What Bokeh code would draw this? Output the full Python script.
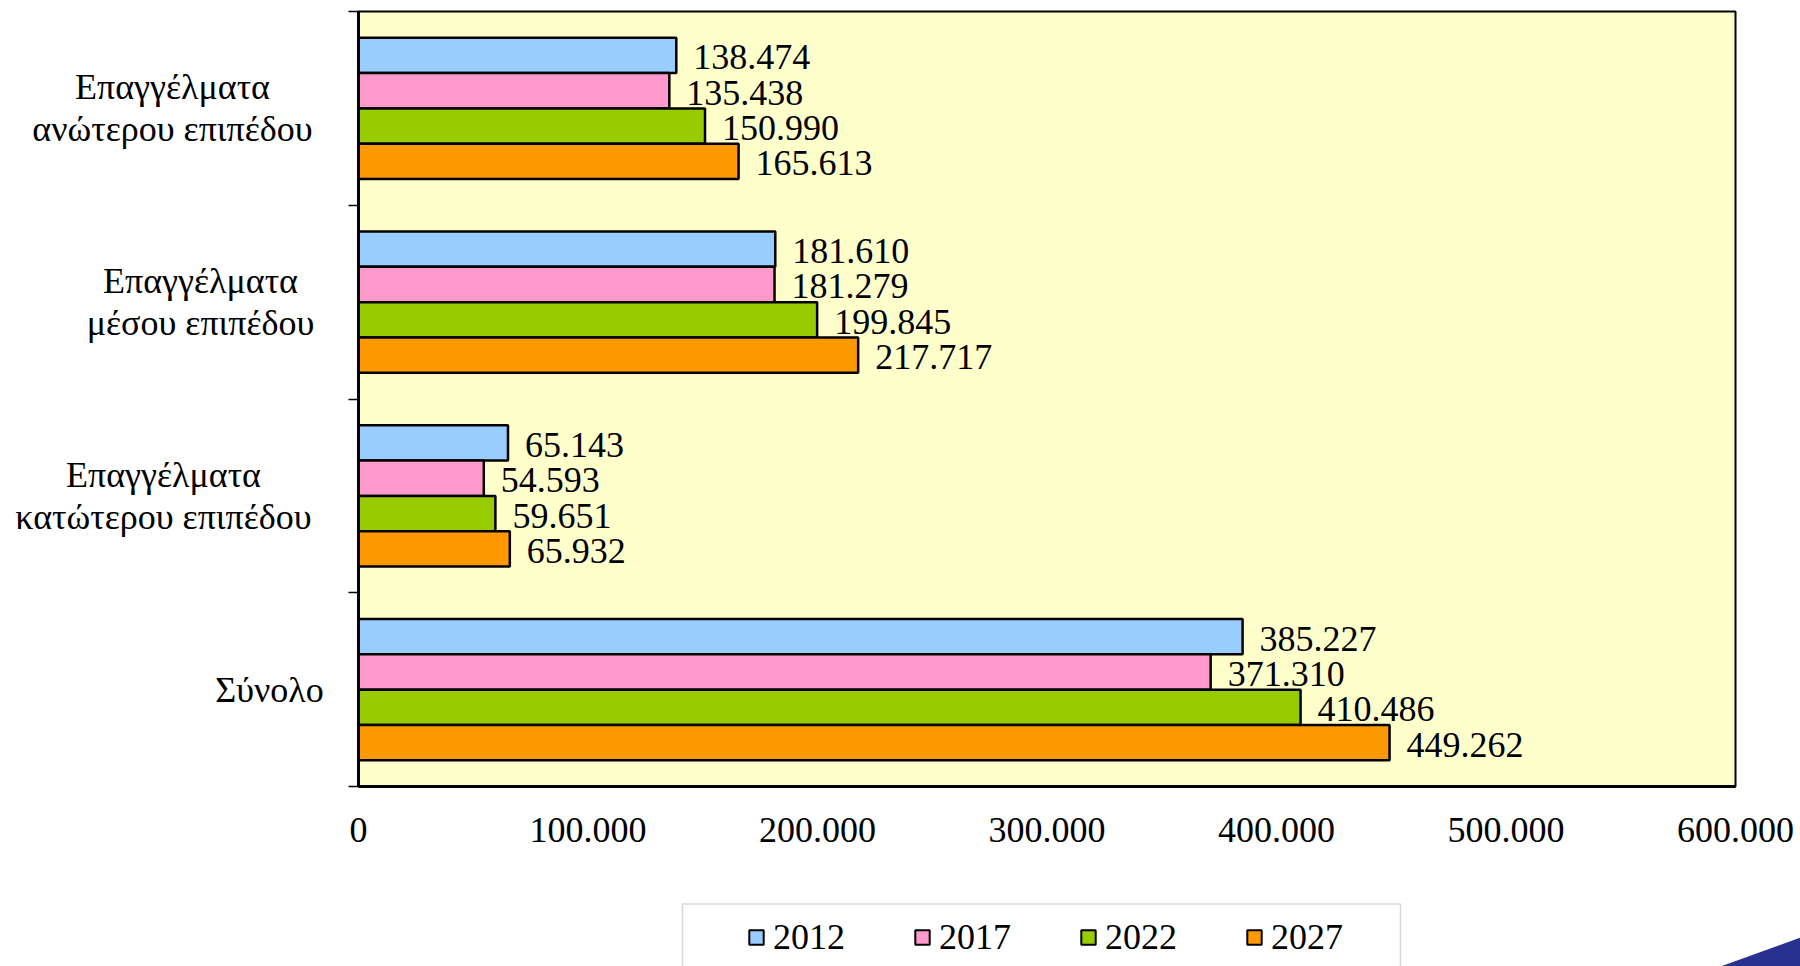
from bokeh.plotting import figure
from bokeh.layouts import column, row
from bokeh.models import (Range1d, FixedTicker, Legend, LegendItem,
                          ColumnDataSource, BoxAnnotation)
from bokeh.core.properties import value
from bokeh.embed import file_html
from bokeh.resources import INLINE

# ---------------- data ----------------
categories = ["Σύνολο",
              "Επαγγέλματα\nκατώτερου επιπέδου",
              "Επαγγέλματα\nμέσου επιπέδου",
              "Επαγγέλματα\nανώτερου επιπέδου"]
years = ["2012", "2017", "2022", "2027"]
v2012 = [385227, 65143, 181610, 138474]
v2017 = [371310, 54593, 181279, 135438]
v2022 = [410486, 59651, 199845, 150990]
v2027 = [449262, 65932, 217717, 165613]
x_ticks = [0, 100000, 200000, 300000, 400000, 500000, 600000]
x_tick_labels = ["0", "100.000", "200.000", "300.000", "400.000", "500.000", "600.000"]
colors = ["#99CCFF", "#FF99CC", "#99CC00", "#FF9900"]

FONT = "Liberation Serif"
FS = "36px"

# ---------------- layout constants (pixels) ----------------
W, H = 1800, 966
LABEL_W = 348          # width of the category-label strip
MAIN_H = 890           # height of the chart row
LEG_H = H - MAIN_H     # legend strip
FR_TOP, FR_BOTTOM = 11, 104
label_centre_x = [269, 163, 200, 172]     # horizontal centre of each label block
line_y_offsets = {1: [0], 2: [-21, 21]}   # baseline offsets (px, downwards)

series = [v2012, v2017, v2022, v2027]
bar_h = 0.1823
offsets = [1.5 * bar_h, 0.5 * bar_h, -0.5 * bar_h, -1.5 * bar_h]
ncat = len(categories)
yr = Range1d(0, ncat)

# ---------------- main chart ----------------
p = figure(width=W - LABEL_W, height=MAIN_H, output_backend="svg", toolbar_location=None,
           x_range=Range1d(0, 600000), y_range=yr,
           min_border_left=10, min_border_right=65, min_border_top=FR_TOP,
           min_border_bottom=FR_BOTTOM)
p.background_fill_color = "#FFFFCC"
p.border_fill_color = "white"
p.outline_line_color = "black"
p.outline_line_width = 2
p.xgrid.visible = False
p.ygrid.visible = False

for vals, off, col in zip(series, offsets, colors):
    ys = [i + 0.5 + off for i in range(ncat)]
    src = ColumnDataSource(dict(y=ys, right=vals,
                                lab=[f"{v:,}".replace(",", ".") for v in vals]))
    p.hbar(y="y", right="right", left=0, height=bar_h, source=src,
           fill_color=col, line_color="black", line_width=2.5)
    p.text(x="right", y="y", text="lab", source=src, x_offset=17, y_offset=2,
           text_font=value(FONT), text_font_size=FS, text_color="black",
           text_align="left", text_baseline="middle")

p.xaxis.ticker = FixedTicker(ticks=x_ticks)
p.xaxis.major_label_overrides = {t: l for t, l in zip(x_ticks, x_tick_labels)}
p.xaxis.major_label_text_font = FONT
p.xaxis.major_label_text_font_size = FS
p.xaxis.major_label_text_color = "black"
p.xaxis.major_tick_out = 0
p.xaxis.major_tick_in = 0
p.xaxis.minor_tick_line_color = None
p.xaxis.major_label_standoff = 31
p.xaxis.axis_line_width = 3
p.xaxis.axis_line_color = "black"

bounds = list(range(ncat + 1))
p.yaxis.ticker = FixedTicker(ticks=bounds)
p.yaxis.major_label_overrides = {b: "" for b in bounds}
p.yaxis.major_label_standoff = 0
p.yaxis.major_tick_out = 10
p.yaxis.major_tick_in = 0
p.yaxis.major_tick_line_width = 1.5
p.yaxis.major_tick_line_color = "black"
p.yaxis.minor_tick_line_color = None
p.yaxis.axis_line_width = 3
p.yaxis.axis_line_color = "black"

# ---------------- category labels strip ----------------
lab = figure(width=LABEL_W, height=MAIN_H, output_backend="svg", toolbar_location=None,
             x_range=Range1d(0, LABEL_W), y_range=yr,
             min_border_left=0, min_border_right=0, min_border_top=FR_TOP,
             min_border_bottom=FR_BOTTOM, x_axis_location=None, y_axis_location=None)
lab.grid.visible = False
lab.outline_line_color = None
lab.background_fill_color = "white"
lab.border_fill_color = "white"
for i, cat in enumerate(categories):
    lines = cat.split("\n")
    for line, yo in zip(lines, line_y_offsets[len(lines)]):
        src = ColumnDataSource(dict(x=[label_centre_x[i]], y=[i + 0.5], t=[line]))
        lab.text(x="x", y="y", text="t", source=src, y_offset=yo,
                 text_font=value(FONT), text_font_size=FS, text_color="black",
                 text_align="center", text_baseline="alphabetic")

# ---------------- legend strip ----------------
leg = figure(width=W, height=LEG_H, output_backend="svg", toolbar_location=None,
             x_range=Range1d(0, W), y_range=Range1d(0, LEG_H),
             min_border_left=0, min_border_right=0, min_border_top=0,
             min_border_bottom=0, x_axis_location=None, y_axis_location=None)
leg.grid.visible = False
leg.outline_line_color = None
leg.background_fill_color = "white"
leg.border_fill_color = "white"

# decorative corner swoosh of the slide
leg.patch(x=[1720, 1800, 1800], y=[0, 29, 0], fill_color="#27318F", line_color=None)

# legend proxies: zero-width bars lying below the visible strip
leg_rs = [leg.hbar(y=[-LEG_H], right=[0], left=0, height=1, fill_color=c,
                   line_color="black", line_width=2) for c in colors]
leg.add_layout(BoxAnnotation(left=682, right=1400, top=LEG_H - 13.5, bottom=-20,
                             fill_alpha=0, line_color="#808080", line_width=1.5))
legend = Legend(items=[LegendItem(label=y, renderers=[r]) for y, r in zip(years, leg_rs)],
                orientation="horizontal", location=(747, 8),
                label_text_font=FONT, label_text_font_size=FS, label_text_color="black",
                glyph_width=18, glyph_height=18, label_standoff=8, label_height=41,
                spacing=68, padding=0, margin=0,
                border_line_alpha=0, background_fill_alpha=0)
leg.add_layout(legend, "center")

layout = column(row(lab, p), leg)
open("out.html", "w").write(file_html(layout, INLINE))
